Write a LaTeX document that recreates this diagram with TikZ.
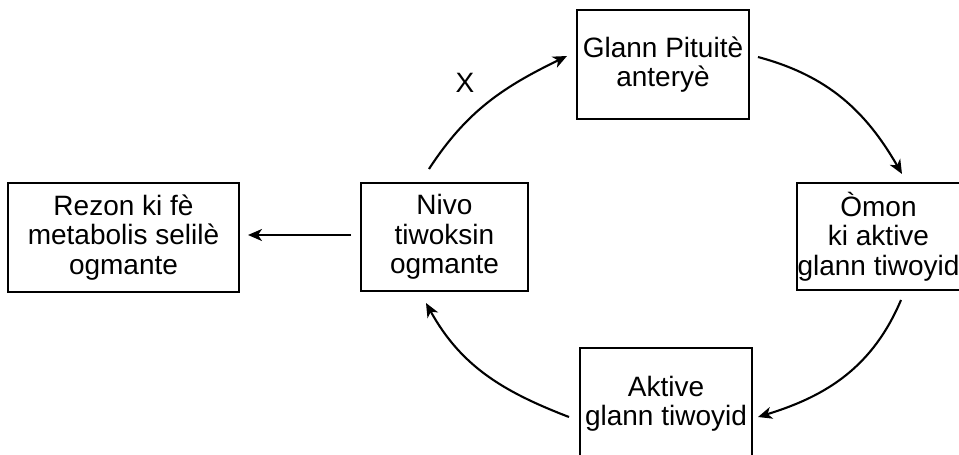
\documentclass[tikz,border=0pt]{standalone}
\usepackage{fontspec}
\setmainfont{Liberation Sans}
\usetikzlibrary{arrows.meta}
\begin{document}
\begin{tikzpicture}[x=1pt,y=-1pt,
  box/.style={draw, line width=2pt, rectangle, align=center, inner sep=0pt,
    font=\fontsize{28}{29.5}\selectfont},
  arr/.style={line width=2.1pt, -{Stealth[length=14pt,width=12pt,inset=4pt]}},
  lbl/.style={font=\fontsize{28}{29.5}\selectfont, inner sep=0pt}]
\clip (0,0) rectangle (959,455);
\fill[white] (0,0) rectangle (959,455);
\node[box, minimum width=231pt, minimum height=109pt] (rezon) at (123.5,237.5) {Rezon ki fè\\metabolis selilè\\ogmante};
\node[box, minimum width=167pt, minimum height=108pt] (nivo) at (444.5,237) {Nivo\\tiwoksin\\ogmante};
\node[box, minimum width=172pt, minimum height=109pt] (glann) at (663,64.5) {Glann Pituitè\\anteryè};
\node[box, minimum width=163pt, minimum height=107pt] (omon) at (878.5,236.5) {Òmon\\ki aktive\\glann tiwoyid};
\node[box, minimum width=172pt, minimum height=112pt] (aktive) at (666,404) {Aktive\\glann tiwoyid};
\node[lbl] (x) at (465,83) {X};
\draw[arr] ([xshift=-15.5pt,yshift=13pt]nivo.north) to[out=57,in=206] ([xshift=-9pt,yshift=8.5pt]glann.west);
\draw[arr] ([xshift=8pt,yshift=7.5pt]glann.east) to[out=-15,in=120] ([xshift=23.5pt,yshift=8pt]omon.north);
\draw[arr] ([xshift=22.5pt,yshift=-9pt]omon.south) to[out=-113,in=17] ([xshift=5pt,yshift=-13pt]aktive.east);
\draw[arr] ([xshift=-10pt,yshift=-13pt]aktive.west) to[out=159,in=-61] ([xshift=-18.5pt,yshift=-11pt]nivo.south);
\draw[arr] ([xshift=-9pt,yshift=2pt]nivo.west) -- ([xshift=8pt,yshift=2.5pt]rezon.east);
\end{tikzpicture}
\end{document}
